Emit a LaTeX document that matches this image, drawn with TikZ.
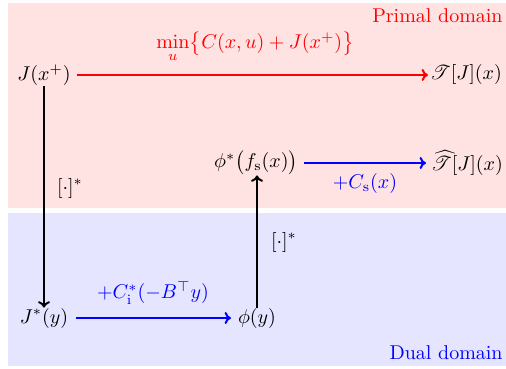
\documentclass[tikz,border=0pt]{standalone}
\usepackage{amsmath}
\usepackage{mathrsfs}
\usetikzlibrary{arrows.meta}
\begin{document}
\begin{tikzpicture}[x=0.5pt,y=-0.5pt,
  arr/.style={line width=1pt,-{To[length=3.2pt,width=6pt]}},
  lbl/.style={inner sep=0pt}]
\useasboundingbox (0,0) rectangle (506,368);
\fill[red!11] (8,3) rectangle (506,208);
\fill[blue!10] (8,213) rectangle (506,366);
\node[lbl,text=red,anchor=east] (primal) at (503,16) {Primal domain};
\node[lbl,text=blue,anchor=east] (dual) at (503,353) {Dual domain};
\node[lbl] (J) at (44,75) {$J(x^+)$};
\node[lbl] (T) at (466,75) {$\mathscr{T}[J](x)$};
\node[lbl] (phis) at (256,163) {$\phi^*\bigl(f_{\mathrm{s}}(x)\bigr)$};
\node[lbl] (That) at (467,163) {$\widehat{\mathscr{T}}[J](x)$};
\node[lbl] (Js) at (44,318) {$J^*(y)$};
\node[lbl] (phi) at (257,318) {$\phi(y)$};
\draw[arr,red] (J.east -| 77,75) -- (T.west -| 428,75);
\node[lbl,text=red] (minlbl) at (255,47) {$\min\limits_{u}\bigl\{C(x,u)+J(x^+)\bigr\}$};
\draw[arr,blue] (phis.east -| 304,163) -- (That.west -| 426,163);
\node[lbl,text=blue] (cs) at (365,184) {$+C_{\mathrm{s}}(x)$};
\draw[arr,blue] (Js.east -| 76,318) -- (phi.west -| 231,318);
\node[lbl,text=blue] (ci) at (153,293) {$+C_{\mathrm{i}}^*(-B^\top y)$};
\draw[arr] (J.south -| 44,90) -- (Js.north -| 44,299);
\draw[arr] (phi.north -| 257,301) -- (phis.south -| 257,181);
\node[lbl] (c1) at (70,188) {$[\cdot]^*$};
\node[lbl] (c2) at (284,242) {$[\cdot]^*$};
\end{tikzpicture}
\end{document}
